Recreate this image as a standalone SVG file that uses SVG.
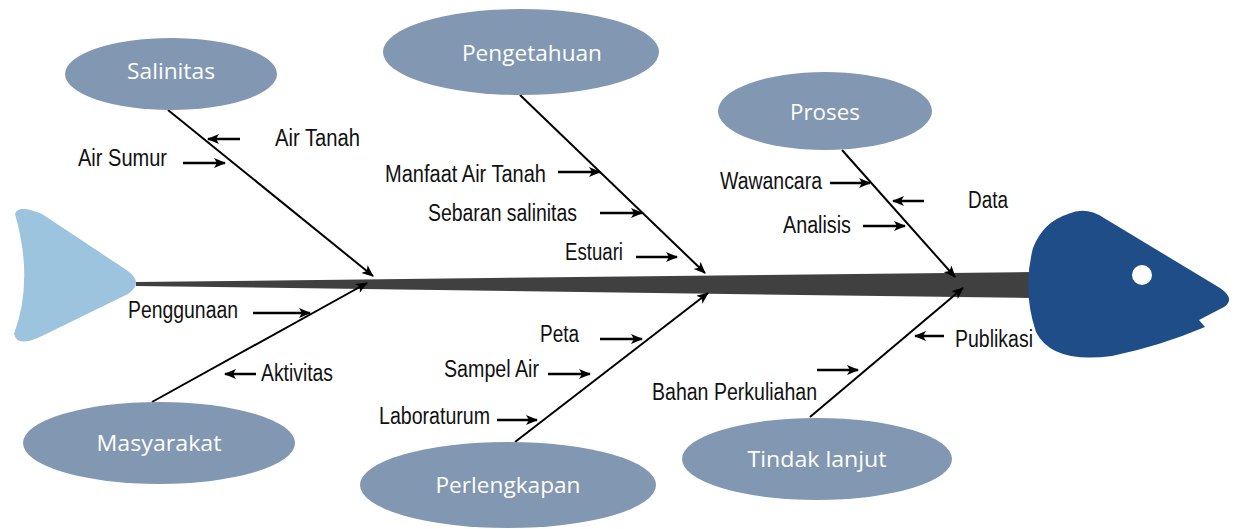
<svg xmlns="http://www.w3.org/2000/svg" width="1240" height="529" viewBox="0 0 1240 529">
<defs>
<marker id="ah" viewBox="0 0 12 10" refX="11" refY="5" markerWidth="13" markerHeight="10" markerUnits="userSpaceOnUse" orient="auto">
<path d="M0,0 L12,5 L0,10 L3,5 Z" fill="#000"/>
</marker>
<style>
.cat ellipse{fill:#8297b1}
.cat text{font-family:"Open Sans","Noto Sans",sans-serif;font-size:21px;fill:#fff;text-anchor:middle}
.bone{stroke:#000;stroke-width:2;fill:none;marker-end:url(#ah)}
.sub{stroke:#000;stroke-width:2.5;fill:none;marker-end:url(#ah)}
.lbl{font-family:"Liberation Sans",Arial,sans-serif;font-size:23px;fill:#111}
</style>
</defs>
<rect width="1240" height="529" fill="#fff"/>
<g id="tail">
<path d="M15,214 Q18,204 42,214 L128,271 Q144,283 128,294 L42,336 Q17,348 14,334 Q34,280 15,214 Z" fill="#9dc4df"/>
</g>
<g id="spine">
<path d="M136,282 L1032,272 L1032,298 L136,286 Z" fill="#404040"/>
</g>
<g id="head">
<path d="M1068,214 Q1086,206 1104,218 L1220,288 Q1236,299 1224,307 L1199,320 L1205,327 Q1160,346 1112,356 Q1052,364 1036,332 Q1022,290 1033,248 Q1043,222 1068,214 Z" fill="#1f4d88"/>
<circle cx="1142" cy="275" r="10" fill="#fff"/>
</g>
<g id="connectors">
<line class="bone" x1="168" y1="110" x2="373" y2="276"/>
<line class="bone" x1="520" y1="95" x2="705" y2="273"/>
<line class="bone" x1="842" y1="150" x2="955" y2="277"/>
<line class="bone" x1="152" y1="402" x2="367" y2="283"/>
<line class="bone" x1="515" y1="442" x2="708" y2="293"/>
<line class="bone" x1="810" y1="417" x2="963" y2="288"/>
<line class="sub" x1="240" y1="139" x2="208" y2="139"/>
<line class="sub" x1="183" y1="163" x2="225" y2="163"/>
<line class="sub" x1="558" y1="172" x2="600" y2="172"/>
<line class="sub" x1="600" y1="213" x2="642" y2="213"/>
<line class="sub" x1="636" y1="257" x2="677" y2="257"/>
<line class="sub" x1="830" y1="183" x2="870" y2="183"/>
<line class="sub" x1="924" y1="201" x2="893" y2="201"/>
<line class="sub" x1="863" y1="226" x2="905" y2="226"/>
<line class="sub" x1="253" y1="313" x2="310" y2="313"/>
<line class="sub" x1="256" y1="374" x2="225" y2="374"/>
<line class="sub" x1="600" y1="339" x2="642" y2="339"/>
<line class="sub" x1="548" y1="374" x2="590" y2="374"/>
<line class="sub" x1="497" y1="420" x2="537" y2="420"/>
<line class="sub" x1="944" y1="336" x2="915" y2="336"/>
<line class="sub" x1="817" y1="370" x2="858" y2="370"/>
</g>
<g id="labels">
<text class="lbl" x="275" y="146" textLength="85" lengthAdjust="spacingAndGlyphs">Air Tanah</text>
<text class="lbl" x="78" y="166" textLength="89" lengthAdjust="spacingAndGlyphs">Air Sumur</text>
<text class="lbl" x="385" y="182" textLength="161" lengthAdjust="spacingAndGlyphs">Manfaat Air Tanah</text>
<text class="lbl" x="428" y="221" textLength="149" lengthAdjust="spacingAndGlyphs">Sebaran salinitas</text>
<text class="lbl" x="565" y="260" textLength="58" lengthAdjust="spacingAndGlyphs">Estuari</text>
<text class="lbl" x="720" y="189" textLength="102" lengthAdjust="spacingAndGlyphs">Wawancara</text>
<text class="lbl" x="968" y="208" textLength="40" lengthAdjust="spacingAndGlyphs">Data</text>
<text class="lbl" x="783" y="233" textLength="68" lengthAdjust="spacingAndGlyphs">Analisis</text>
<text class="lbl" x="128" y="318" textLength="110" lengthAdjust="spacingAndGlyphs">Penggunaan</text>
<text class="lbl" x="261" y="381" textLength="72" lengthAdjust="spacingAndGlyphs">Aktivitas</text>
<text class="lbl" x="540" y="342" textLength="39" lengthAdjust="spacingAndGlyphs">Peta</text>
<text class="lbl" x="444" y="377" textLength="95" lengthAdjust="spacingAndGlyphs">Sampel Air</text>
<text class="lbl" x="379" y="424" textLength="111" lengthAdjust="spacingAndGlyphs">Laboraturum</text>
<text class="lbl" x="955" y="347" textLength="78" lengthAdjust="spacingAndGlyphs">Publikasi</text>
<text class="lbl" x="652" y="400" textLength="165" lengthAdjust="spacingAndGlyphs">Bahan Perkuliahan</text>
</g>
<g id="salinitas" class="cat">
<ellipse cx="171" cy="74" rx="106" ry="36"/>
<text x="171" y="79" textLength="88" lengthAdjust="spacingAndGlyphs">Salinitas</text>
</g>
<g id="pengetahuan" class="cat">
<ellipse cx="521" cy="52" rx="138" ry="43"/>
<text x="532" y="61" textLength="140" lengthAdjust="spacingAndGlyphs">Pengetahuan</text>
</g>
<g id="proses" class="cat">
<ellipse cx="825" cy="111" rx="107" ry="39"/>
<text x="825" y="120" textLength="70" lengthAdjust="spacingAndGlyphs">Proses</text>
</g>
<g id="masyarakat" class="cat">
<ellipse cx="159" cy="443" rx="136" ry="41"/>
<text x="159" y="451" textLength="125" lengthAdjust="spacingAndGlyphs">Masyarakat</text>
</g>
<g id="perlengkapan" class="cat">
<ellipse cx="508" cy="485" rx="148" ry="43"/>
<text x="508" y="493" textLength="145" lengthAdjust="spacingAndGlyphs">Perlengkapan</text>
</g>
<g id="tindak-lanjut" class="cat">
<ellipse cx="817" cy="459" rx="135" ry="41"/>
<text x="817" y="467" textLength="139" lengthAdjust="spacingAndGlyphs">Tindak lanjut</text>
</g>
</svg>
